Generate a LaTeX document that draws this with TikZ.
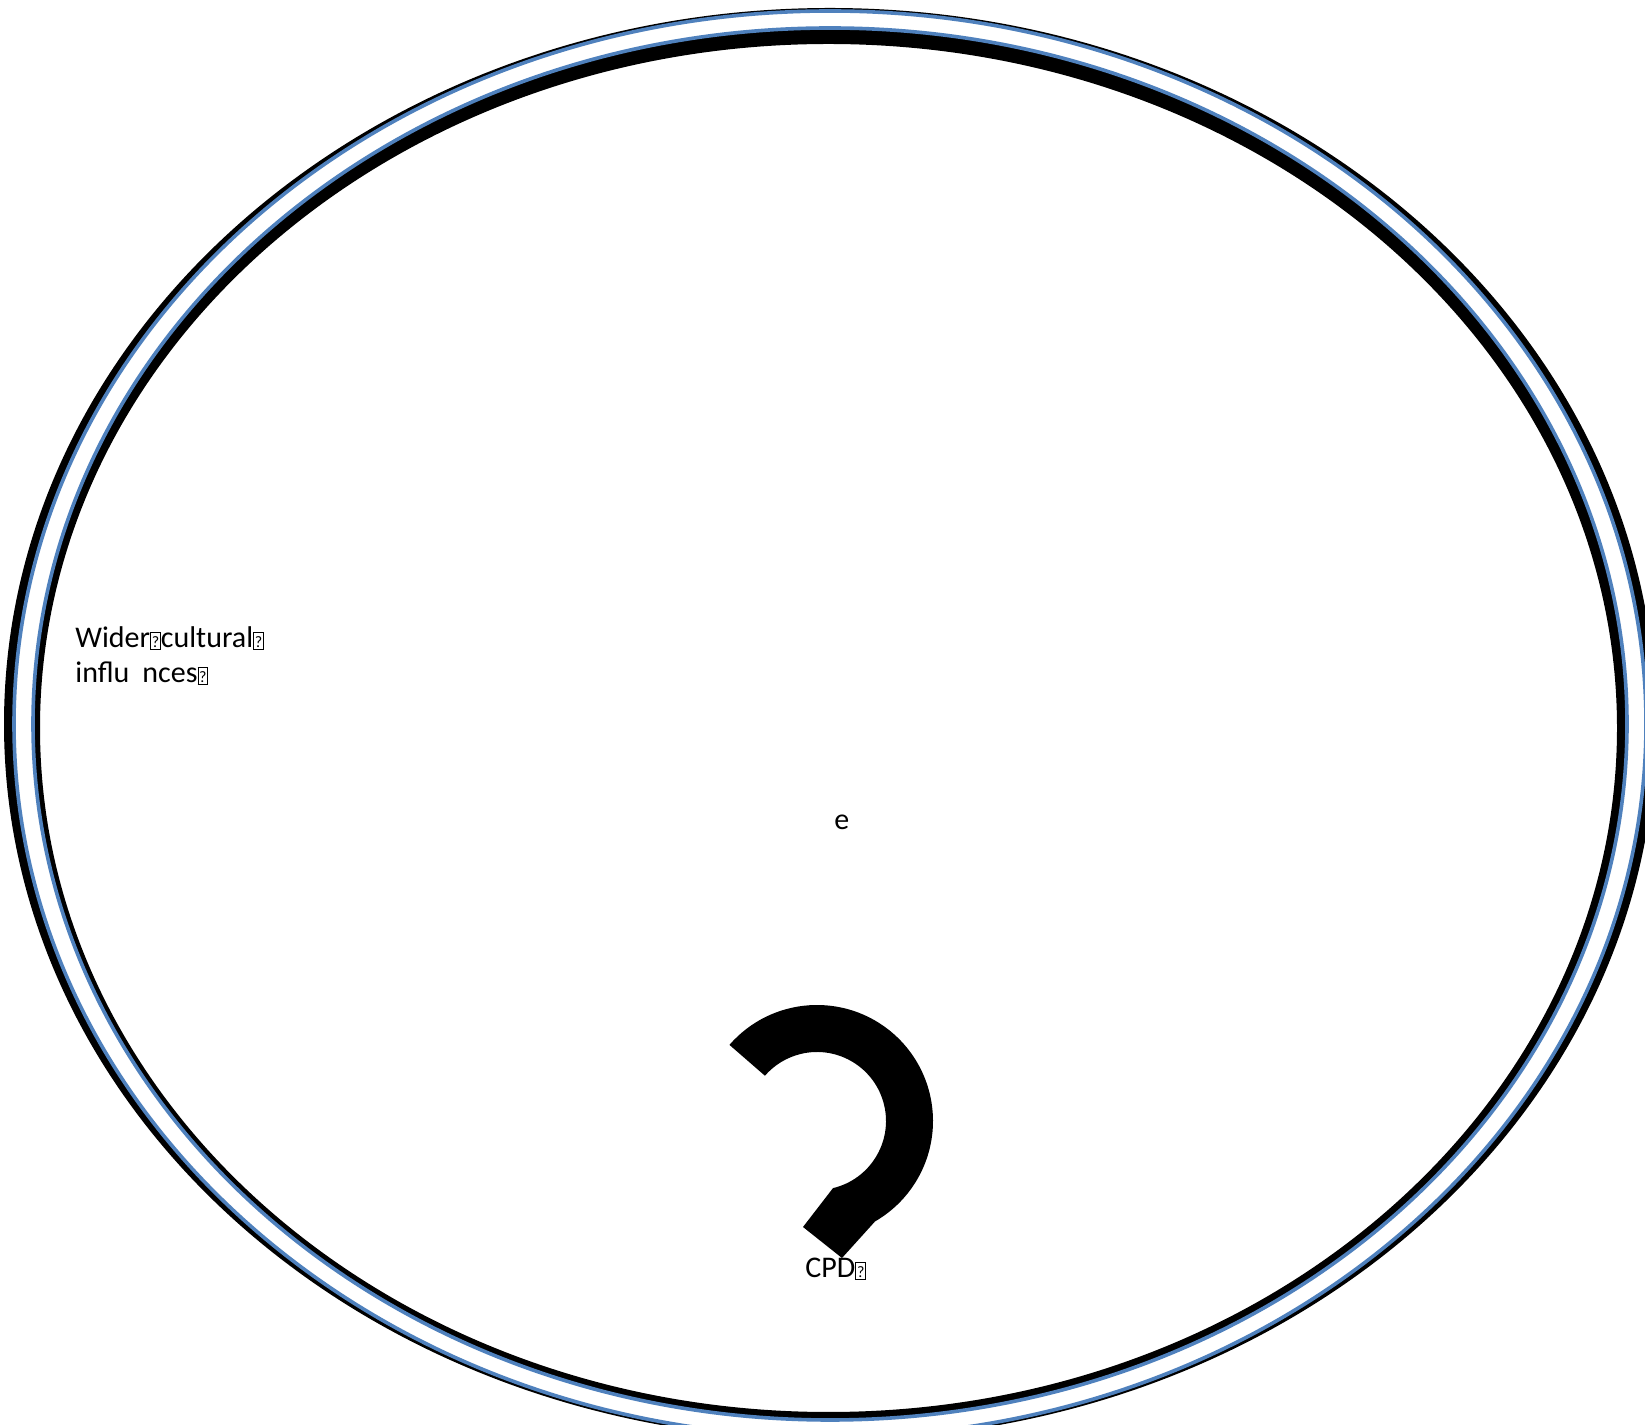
\documentclass[tikz,border=0pt]{standalone}
\usepackage{fontspec}
\setmainfont{Carlito}
\definecolor{ringblue}{HTML}{4F81BD}
\newcommand\qbx{{\setlength\fboxsep{0.4pt}\setlength\fboxrule{0.5pt}\fbox{\rule[-0.3pt]{0pt}{7.6pt}\makebox[3.6pt]{\fontsize{8}{8}\selectfont ?}}}}
\tikzset{
  lbl/.style={inner sep=0pt, anchor=base west, font=\fontsize{15}{18}\selectfont},
  blueline/.style={draw=ringblue, line width=1.8pt},
}
\begin{document}
\begin{tikzpicture}[x=0.5pt,y=0.5pt]
\useasboundingbox (0,0) rectangle (1645,1425);
\begin{scope}
\clip (0,0) rectangle (1645,1425);
% black ring
\fill[black, even odd rule] (830,701) ellipse [x radius=826, y radius=716]
                            (828.5,697) ellipse [x radius=788.5, y radius=684];
% white band
\fill[white, even odd rule] (830,701) ellipse [x radius=816, y radius=713]
                            (830,701) ellipse [x radius=797, y radius=696];
\draw[blueline] (830,701) ellipse [x radius=816, y radius=713];
\draw[blueline] (830,701) ellipse [x radius=797, y radius=696];
\end{scope}
% curved arrow
\fill[black] ([shift={(139:116)}]817,304) arc[start angle=139, end angle=-60, radius=116]
  -- (842,167) -- (803,198)
  -- ([shift={(-76.6:69)}]817,304) arc[start angle=-76.6, end angle=139, radius=69] -- cycle;
% texts
\node[lbl] (wider1) at (75,777) {Wider\qbx cultural\qbx};
\node[lbl] (wider2a) at (75,742) {influ};
\node[lbl] (wider2b) at (142,742) {nces\qbx};
\node[lbl] (e) at (834,595) {e};
\node[lbl] (cpd) at (805,147) {CPD\qbx};
\end{tikzpicture}
\end{document}
